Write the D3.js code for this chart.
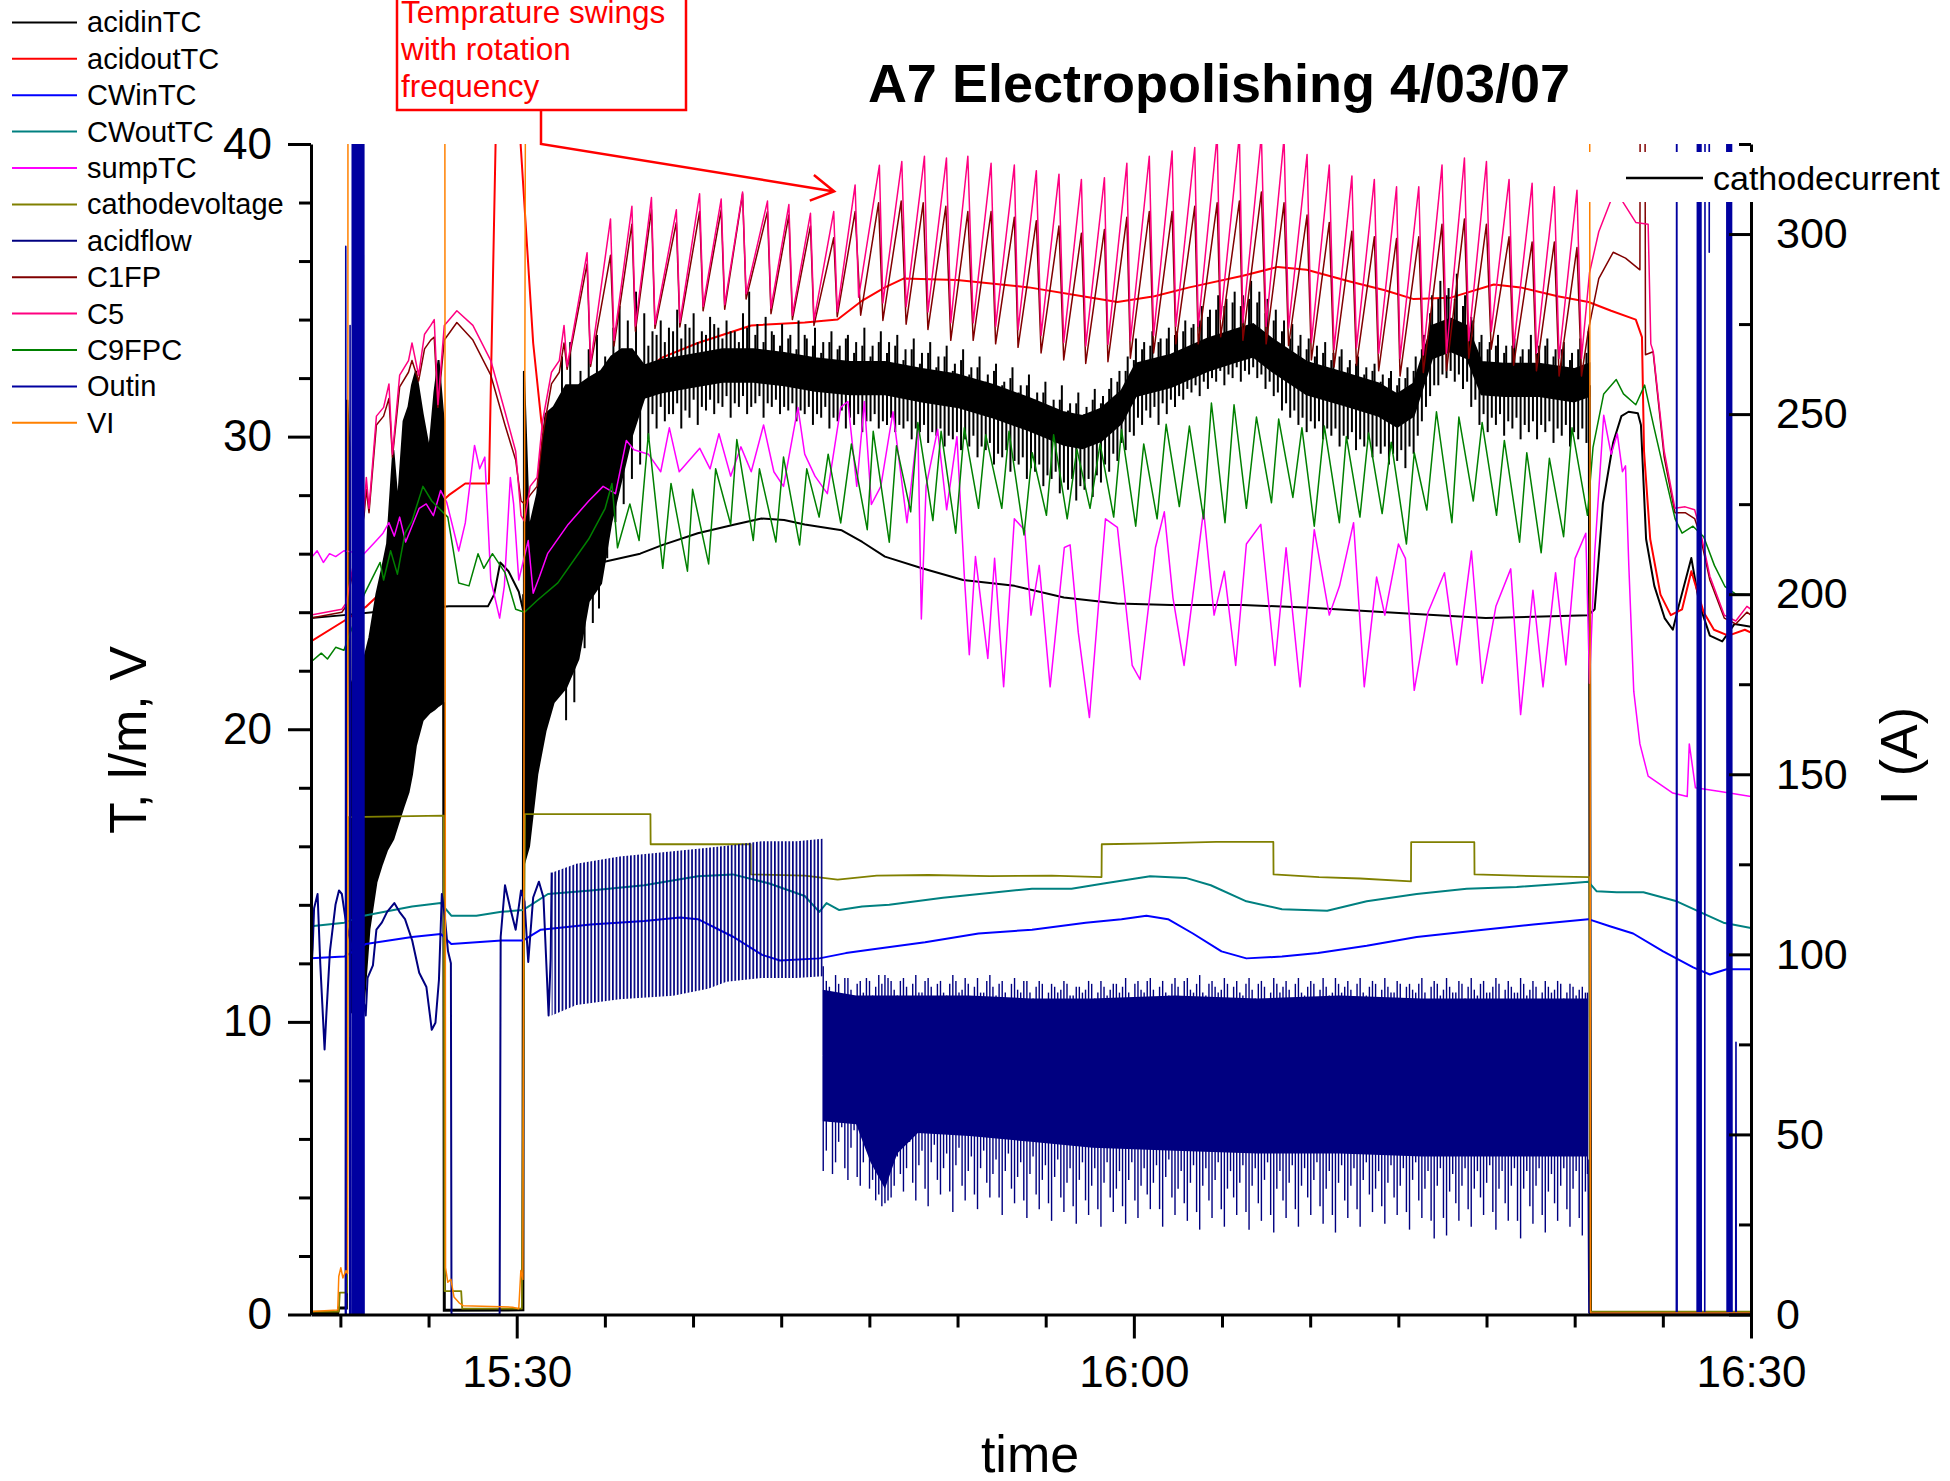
<!DOCTYPE html>
<html>
<head>
<meta charset="utf-8">
<script src="https://d3js.org/d3.v7.min.js"></script>
<style>
  body { margin: 0; background: #fff; }
  svg { display: block; font-family: "Liberation Sans", Arial, sans-serif; }
</style>
</head>
<body>
<svg id="chart" width="1950" height="1481"></svg>
<script>
// ---- data: [minutes after 15:20, value] ----
var legendNames = ["acidinTC", "acidoutTC", "CWinTC", "CWoutTC", "sumpTC", "cathodevoltage",
                   "acidflow", "C1FP", "C5", "C9FPC", "Outin", "VI"];

var majorTimes = [10, 40, 70];
var leftTicks = [0, 10, 20, 30, 40];
var rightTicks = [0, 50, 100, 150, 200, 250, 300];

var acidinTC = [[0,23.8],[1.6,23.9],[3.0,24.0],[5.0,24.1],[6.7,24.2],[8.6,24.2],[8.9,24.6],[9.2,25.7],[9.6,25.4],[10.1,24.7],[10.3,24.1],[10.9,24.2],[12.0,24.6],[13.0,25.2],[14.1,25.7],[16.0,26.0],[17.1,26.3],[18.8,26.7],[20.6,27.0],[21.9,27.2],[23.0,27.15],[24.0,27.0],[25.8,26.8],[26.8,26.4],[27.9,25.9],[29.7,25.5],[31.7,25.1],[34.2,24.9],[36.6,24.5],[39.2,24.3],[41.8,24.25],[45.3,24.25],[48.6,24.15],[53.5,23.95],[57.1,23.8],[62.1,23.9],[62.4,24.1],[62.8,27.7],[63.3,29.8],[63.7,30.7],[64.05,30.85],[64.5,30.8],[64.65,30.4],[64.9,26.5],[65.3,24.9],[65.8,23.8],[66.2,23.4],[66.5,24.25],[67.1,25.85],[67.5,24.25],[68.0,23.2],[68.6,23.0],[69.2,23.6],[70,23.5]];

var acidoutTC = [[0,23.0],[1.6,23.7],[2.7,24.2],[3.9,25.0],[4.7,26.1],[5.6,27.3],[6.7,28.0],[7.5,28.4],[8.65,28.4],[9.0,41],[10.1,41],[10.8,33.2],[11.2,30.5],[11.7,29.0],[12.0,28.7],[13.5,30.3],[15.0,31.6],[17.06,32.7],[18.8,33.2],[21.4,33.8],[24.0,33.9],[25.6,34.0],[26.8,34.65],[27.9,35.1],[28.8,35.4],[31.4,35.35],[34.9,35.1],[37.5,34.8],[39.2,34.6],[41.0,34.8],[42.7,35.1],[45.3,35.5],[47.0,35.8],[48.4,35.7],[50.5,35.3],[52.2,35.0],[53.6,34.7],[55.4,34.75],[57.5,35.2],[58.8,35.1],[60.6,34.8],[62.1,34.6],[63.2,34.3],[64.4,34.0],[64.7,33.4],[64.8,29.5],[65.1,26.5],[65.6,24.6],[66.1,23.9],[66.65,24.1],[67.1,25.4],[67.7,24.0],[68.2,23.4],[68.9,23.2],[69.7,23.4],[70,23.3]];

var CWinTC = [[0,12.17],[1.62,12.23],[2.66,12.66],[4.91,12.9],[6.31,13.0],[6.82,12.66],[9.26,12.78],[10.3,12.78],[11.17,13.15],[13.6,13.33],[16.2,13.45],[17.94,13.57],[18.81,13.51],[20.54,12.9],[21.93,12.29],[22.8,12.1],[24.71,12.17],[26.0,12.35],[27.24,12.47],[29.85,12.72],[32.45,13.02],[35.05,13.15],[37.66,13.39],[39.4,13.51],[40.61,13.63],[41.66,13.51],[42.87,13.02],[44.26,12.41],[45.47,12.17],[47.2,12.23],[48.95,12.35],[51.32,12.6],[53.75,12.9],[56.99,13.15],[59.42,13.33],[62.09,13.51],[63.14,13.27],[64.27,13.02],[65.73,12.41],[67.19,11.86],[68.0,11.62],[68.81,11.8],[70,11.8]];

var CWoutTC = [[0,13.27],[1.62,13.39],[2.57,13.63],[4.91,13.94],[6.31,14.06],[6.82,13.63],[8.04,13.63],[9.26,13.76],[10.3,13.82],[11.52,14.37],[13.6,14.49],[16.2,14.67],[18.81,14.98],[20.5,15.04],[22.28,14.73],[24.0,14.3],[24.71,13.76],[25.06,14.06],[25.68,13.82],[26.79,13.94],[28.11,14.0],[30.72,14.24],[33.32,14.43],[35.05,14.55],[36.97,14.55],[38.53,14.73],[40.79,14.98],[42.52,14.92],[43.74,14.67],[45.47,14.12],[47.2,13.85],[49.4,13.8],[51.32,14.12],[53.75,14.37],[56.18,14.55],[58.61,14.61],[61.04,14.73],[62.09,14.79],[62.5,14.46],[63.47,14.43],[64.77,14.43],[66.39,14.12],[67.69,13.7],[68.66,13.39],[70,13.21]];

var sumpTC = [[0,25.85],[0.3,26.1],[0.6,25.7],[0.9,26.0],[1.2,25.9],[1.6,26.1],[2.58,26.0],[3.18,26.45],[3.5,26.7],[3.79,27.06],[4.05,26.6],[4.31,27.25],[4.6,26.4],[5.26,27.55],[5.6,27.7],[5.95,27.3],[6.3,28.16],[6.6,27.75],[7.18,26.09],[7.5,27.05],[7.95,29.7],[8.2,28.9],[8.45,29.3],[8.74,25.1],[9.17,23.8],[9.4,24.9],[9.69,28.6],[9.85,27.7],[10.1,25.1],[10.56,26.45],[10.8,24.65],[11.1,25.2],[11.5,26.0],[12.5,27.0],[13.5,27.8],[14.2,28.3],[14.8,28.05],[15.33,29.87],[15.7,29.55],[16.4,29.4],[17.0,28.8],[17.42,30.3],[17.9,28.8],[18.4,29.2],[18.9,29.6],[19.4,28.9],[19.83,30.1],[20.4,28.65],[20.9,29.65],[21.4,28.8],[22.0,30.4],[22.5,28.8],[22.97,28.3],[23.67,31.0],[24.0,29.4],[24.5,28.65],[25.1,28.05],[25.75,31.0],[26.1,31.2],[26.53,28.3],[26.9,31.2],[27.24,27.68],[27.7,28.3],[28.29,30.85],[28.97,27.06],[29.5,30.36],[29.67,23.77],[29.9,28.3],[30.46,30.24],[30.9,27.5],[31.4,30.0],[31.76,25.23],[32.0,22.55],[32.3,25.9],[32.9,22.42],[33.23,25.84],[33.67,21.45],[34.19,27.19],[34.7,26.8],[35.0,23.9],[35.4,25.6],[35.93,21.45],[36.62,26.21],[36.9,26.3],[37.3,23.3],[37.84,20.4],[38.62,27.19],[39.2,26.9],[39.92,22.18],[40.3,21.7],[41.05,26.21],[41.48,27.43],[41.9,24.5],[42.44,22.18],[43.39,27.49],[43.9,23.9],[44.4,25.4],[44.95,22.18],[45.47,26.33],[46.17,27.0],[46.86,22.18],[47.4,26.2],[48.08,21.45],[48.77,26.82],[49.5,23.9],[50.0,24.9],[50.68,27.06],[51.2,21.45],[51.8,25.2],[52.2,23.9],[52.86,26.33],[53.2,25.84],[53.63,21.33],[54.3,24.0],[55.1,25.35],[55.7,22.2],[56.41,26.09],[56.93,21.57],[57.6,24.2],[58.32,25.48],[58.8,20.5],[59.4,24.75],[59.89,21.45],[60.5,25.35],[61.0,22.2],[61.45,25.84],[61.97,26.7],[62.15,21.57],[62.4,26.0],[62.84,30.73],[63.2,29.4],[63.5,30.1],[63.75,28.8],[63.9,29.0],[64.06,25.6],[64.3,21.3],[64.6,19.5],[65.0,18.4],[66.2,17.82],[66.9,17.7],[67.0,19.5],[67.3,18.0],[68.5,17.87],[70,17.7]];

var cathodevoltage = [[0,0.1],[1.35,0.1],[1.4,0.75],[1.75,0.75],[1.8,17.0],[6.45,17.05],[6.5,0.8],[7.3,0.8],[7.35,0.2],[10.25,0.2],[10.4,17.1],[16.5,17.1],[16.51,16.07],[21.37,16.07],[21.38,15.04],[24.0,15.0],[25.6,14.86],[27.5,15.0],[30.0,15.02],[33.0,14.98],[36.0,15.0],[38.43,14.95],[38.44,16.07],[41.0,16.1],[44.0,16.15],[46.78,16.15],[46.79,15.04],[49.0,14.95],[51.0,14.9],[53.47,14.8],[53.48,16.14],[56.55,16.14],[56.56,15.04],[60.0,14.97],[62.15,14.95],[62.2,0.1],[70,0.1]];

// acidflow: line before the rotation starts, envelope of the striped part, dense core band and its spikes
var acidflowStart = [[0,11.56],[0.08,12.5],[0.15,13.88],[0.32,14.37],[0.45,12.0],[0.55,10.6],[0.66,9.06],[0.75,10.3],[0.92,12.41],[1.19,14.0],[1.36,14.49],[1.5,14.37],[1.7,13.4],[2.5,11.0],[2.66,10.22],[2.75,11.5],[3.01,11.93],[3.18,13.15],[3.45,13.4],[3.7,13.76],[4.05,14.06],[4.3,13.76],[4.57,13.51],[4.92,12.78],[5.26,11.68],[5.61,11.19],[5.87,9.73],[6.05,9.97],[6.22,11.44],[6.36,14.37],[6.5,13.63],[6.66,12.41],[6.8,12.0],[6.83,0],[9.17,0],[9.22,12.9],[9.43,14.67],[9.68,13.9],[9.95,13.15],[10.21,14.49],[10.38,14.1],[10.56,12.05],[10.8,14.25],[11.08,14.79],[11.3,14.25],[11.55,10.22],[11.65,12.17],[11.7,15.1]];
var acidflowSwing = [[11.7,10.22,15.1],[12.9,10.58,15.4],[15.0,10.77,15.65],[17.6,10.89,15.83],[19.3,11.13,15.95],[20.2,11.37,16.02],[21.9,11.5,16.17],[23.6,11.5,16.17],[24.88,11.56,16.26]];
var acidflowCore = [[24.88,6.6,11.1],[26.5,6.5,10.9],[27.2,5.2,10.9],[27.9,4.3,10.9],[28.5,5.5,10.9],[29.5,6.2,10.9],[32.0,6.1,10.9],[35.0,5.9,10.8],[38.0,5.7,10.8],[42.0,5.6,10.9],[46.0,5.5,10.8],[50.0,5.5,10.9],[54.0,5.4,10.8],[58.0,5.4,10.8],[62.08,5.4,10.8]];
var acidflowHi = [[24.9,11.9],[25.2,11.2],[25.5,11.6],[25.8,10.9],[26.1,11.5],[26.4,10.4],[26.7,11.4],[27.0,11.5],[27.3,10.9],[27.6,11.6],[27.9,11.6],[28.2,11.4],[28.5,10.9],[28.8,11.5],[29.1,10.8],[29.4,11.6],[29.7,11.0],[30.0,11.5],[30.3,10.6],[30.6,11.4],[30.9,10.9],[31.2,11.6],[31.5,11.0],[31.8,11.5],[32.1,10.5],[32.4,11.5],[32.7,11.0],[33.0,11.6],[33.3,10.9],[33.6,11.4],[33.9,10.6],[34.2,11.5],[34.5,11.0],[34.8,11.4],[35.1,10.8],[35.4,11.4],[35.7,10.7],[36.0,11.3],[36.3,11.0],[36.6,11.4],[36.9,10.9],[37.2,11.2],[37.5,11.0],[37.8,11.4],[38.1,10.8],[38.4,11.4],[38.7,10.9],[39.0,11.3],[39.3,11.0],[39.6,11.5],[39.9,10.5],[40.2,11.4],[40.5,11.0],[40.8,11.5],[41.1,10.8],[41.4,11.4],[41.7,10.9],[42.0,11.5],[42.3,10.4],[42.6,11.5],[42.9,11.0],[43.2,11.6],[43.5,10.9],[43.8,11.4],[44.1,11.0],[44.4,11.5],[44.7,10.6],[45.0,11.4],[45.3,10.9],[45.6,11.5],[45.9,10.8],[46.2,11.4],[46.5,10.5],[46.8,11.5],[47.1,11.0],[47.4,11.4],[47.7,10.7],[48.0,11.5],[48.3,10.9],[48.6,11.4],[48.9,10.6],[49.2,11.5],[49.5,10.9],[49.8,11.5],[50.1,11.0],[50.4,11.4],[50.7,10.5],[51.0,11.5],[51.3,10.9],[51.6,11.4],[51.9,10.7],[52.2,11.5],[52.5,11.0],[52.8,11.4],[53.1,10.8],[53.4,11.3],[53.7,11.0],[54.0,11.5],[54.3,10.6],[54.6,11.4],[54.9,10.9],[55.2,11.5],[55.5,11.0],[55.8,11.4],[56.1,10.8],[56.4,11.5],[56.7,10.9],[57.0,11.4],[57.3,11.0],[57.6,11.5],[57.9,10.6],[58.2,11.4],[58.5,11.0],[58.8,11.5],[59.1,10.9],[59.4,11.4],[59.7,10.7],[60.0,11.4],[60.3,11.0],[60.6,11.4],[60.9,10.8],[61.2,11.3],[61.5,10.9],[61.8,11.2],[62.05,11.0],
  [25.05,11.4],[25.35,11.0],[25.65,11.3],[25.95,11.5],[26.25,11.1],[26.55,11.3],[26.85,11.0],[27.15,11.4],[27.45,11.2],[27.75,11.3],[28.05,11.5],[28.35,11.1],[28.65,11.4],[28.95,11.2],[29.25,11.3],[29.55,11.0],[29.85,11.4],[30.15,11.2],[30.45,11.3],[30.75,11.0],[31.05,11.3],[31.35,11.4],[31.65,11.1],[31.95,11.3],[32.25,11.2],[32.55,11.0],[32.85,11.4],[33.15,11.2],[33.45,11.3],[33.75,11.0],[34.05,11.3],[34.35,11.1],[34.65,11.4],[34.95,11.0],[35.25,11.2],[35.55,11.3],[35.85,11.0],[36.15,11.2],[36.45,11.1],[36.75,11.3],[37.05,10.9],[37.35,11.2],[37.65,11.1],[37.95,11.3],[38.25,11.0],[38.55,11.2],[38.85,11.1],[39.15,11.3],[39.45,11.2],[39.75,11.0],[40.05,11.3],[40.35,11.1],[40.65,11.4],[40.95,11.1],[41.25,11.2],[41.55,11.0],[41.85,11.3],[42.15,11.2],[42.45,11.4],[42.75,11.1],[43.05,11.3],[43.35,11.0],[43.65,11.3],[43.95,11.2],[44.25,11.1],[44.55,11.3],[44.85,11.2],[45.15,11.0],[45.45,11.3],[45.75,11.1],[46.05,11.3],[46.35,11.2],[46.65,11.0],[46.95,11.3],[47.25,11.2],[47.55,11.1],[47.85,11.3],[48.15,11.0],[48.45,11.2],[48.75,11.3],[49.05,11.1],[49.35,11.2],[49.65,11.0],[49.95,11.3],[50.25,11.2],[50.55,11.1],[50.85,11.3],[51.15,11.0],[51.45,11.2],[51.75,11.3],[52.05,11.1],[52.35,11.2],[52.65,11.0],[52.95,11.3],[53.25,11.2],[53.55,11.1],[53.85,11.3],[54.15,11.0],[54.45,11.2],[54.75,11.3],[55.05,11.1],[55.35,11.2],[55.65,11.0],[55.95,11.3],[56.25,11.2],[56.55,11.1],[56.85,11.3],[57.15,11.0],[57.45,11.2],[57.75,11.3],[58.05,11.1],[58.35,11.2],[58.65,11.0],[58.95,11.3],[59.25,11.1],[59.55,11.2],[59.85,11.0],[60.15,11.2],[60.45,11.1],[60.75,11.3],[61.05,11.0],[61.35,11.2],[61.65,11.1],[61.95,11.0]];
var acidflowLo = [[24.9,4.9],[25.2,6.6],[25.5,5.2],[25.8,6.4],[26.1,4.6],[26.4,6.3],[26.7,4.4],[27.0,5.8],[27.3,4.6],[27.6,4.1],[27.9,3.8],[28.2,4.0],[28.5,5.4],[28.8,4.2],[29.1,5.9],[29.4,3.9],[29.7,5.6],[30.0,3.7],[30.3,5.8],[30.6,4.1],[30.9,5.5],[31.2,3.5],[31.5,5.7],[31.8,3.9],[32.1,5.4],[32.4,3.6],[32.7,5.6],[33.0,4.0],[33.3,5.3],[33.6,3.4],[33.9,5.5],[34.2,3.8],[34.5,5.2],[34.8,3.3],[35.1,5.4],[35.4,3.6],[35.7,5.1],[36.0,3.2],[36.3,5.3],[36.6,3.5],[36.9,5.0],[37.2,3.1],[37.5,5.2],[37.8,3.4],[38.1,5.0],[38.4,3.0],[38.7,5.2],[39.0,3.5],[39.3,4.9],[39.6,3.1],[39.9,5.2],[40.2,3.3],[40.5,5.0],[40.8,3.6],[41.1,5.1],[41.4,3.0],[41.7,5.3],[42.0,3.4],[42.3,4.9],[42.6,3.2],[42.9,5.1],[43.2,2.9],[43.5,5.0],[43.8,3.3],[44.1,5.2],[44.4,3.0],[44.7,4.9],[45.0,3.4],[45.3,5.1],[45.6,2.9],[45.9,5.0],[46.2,3.2],[46.5,5.2],[46.8,2.8],[47.1,4.9],[47.4,3.3],[47.7,5.1],[48.0,3.0],[48.3,5.0],[48.6,3.4],[48.9,5.2],[49.2,3.1],[49.5,4.9],[49.8,2.8],[50.1,5.1],[50.4,3.3],[50.7,5.0],[51.0,3.0],[51.3,5.2],[51.6,3.5],[51.9,4.9],[52.2,3.1],[52.5,5.1],[52.8,3.4],[53.1,5.0],[53.4,2.9],[53.7,5.2],[54.0,3.3],[54.3,4.9],[54.6,2.6],[54.9,5.0],[55.2,2.7],[55.5,4.8],[55.8,3.2],[56.1,5.0],[56.4,3.0],[56.7,4.9],[57.0,3.4],[57.3,5.1],[57.6,2.9],[57.9,4.9],[58.2,3.2],[58.5,5.0],[58.8,2.6],[59.1,4.9],[59.4,3.1],[59.7,5.0],[60.0,2.8],[60.3,4.8],[60.6,3.2],[60.9,5.0],[61.2,3.0],[61.5,4.9],[61.8,2.7],[62.05,4.8],
  [25.05,5.6],[25.35,4.8],[25.65,5.9],[25.95,5.0],[26.25,5.7],[26.55,4.7],[26.85,5.2],[27.15,4.3],[27.45,3.9],[27.75,3.7],[28.05,3.9],[28.35,4.4],[28.65,4.8],[28.95,5.0],[29.25,4.5],[29.55,5.1],[29.85,4.3],[30.15,5.2],[30.45,4.6],[30.75,5.0],[31.05,4.2],[31.35,5.1],[31.65,4.4],[31.95,4.9],[32.25,4.1],[32.55,5.0],[32.85,4.5],[33.15,4.8],[33.45,4.0],[33.75,4.9],[34.05,4.3],[34.35,4.7],[34.65,3.9],[34.95,4.8],[35.25,4.1],[35.55,4.6],[35.85,3.8],[36.15,4.7],[36.45,4.0],[36.75,4.5],[37.05,3.7],[37.35,4.6],[37.65,3.9],[37.95,4.4],[38.25,3.6],[38.55,4.5],[38.85,4.0],[39.15,4.3],[39.45,3.7],[39.75,4.6],[40.05,3.9],[40.35,4.4],[40.65,4.1],[40.95,4.5],[41.25,3.6],[41.55,4.7],[41.85,4.0],[42.15,4.3],[42.45,3.8],[42.75,4.5],[43.05,3.5],[43.35,4.4],[43.65,3.9],[43.95,4.6],[44.25,3.6],[44.55,4.3],[44.85,4.0],[45.15,4.5],[45.45,3.5],[45.75,4.4],[46.05,3.8],[46.35,4.6],[46.65,3.4],[46.95,4.3],[47.25,3.9],[47.55,4.5],[47.85,3.6],[48.15,4.4],[48.45,4.0],[48.75,4.6],[49.05,3.7],[49.35,4.3],[49.65,3.4],[49.95,4.5],[50.25,3.9],[50.55,4.4],[50.85,3.6],[51.15,4.6],[51.45,4.1],[51.75,4.3],[52.05,3.7],[52.35,4.5],[52.65,4.0],[52.95,4.4],[53.25,3.5],[53.55,4.6],[53.85,3.9],[54.15,4.3],[54.45,3.2],[54.75,4.4],[55.05,3.3],[55.35,4.2],[55.65,3.8],[55.95,4.4],[56.25,3.6],[56.55,4.3],[56.85,4.0],[57.15,4.5],[57.45,3.5],[57.75,4.3],[58.05,3.8],[58.35,4.4],[58.65,3.2],[58.95,4.3],[59.25,3.7],[59.55,4.4],[59.85,3.4],[60.15,4.2],[60.45,3.8],[60.75,4.4],[61.05,3.6],[61.35,4.3],[61.65,3.3],[61.95,4.2]];
var acidflowEnd = [[62.08,5.3],[62.12,0.05],[70,0.05]];

var C1FP = [[0,23.8],[1.5,24.0],[1.7,24.2],[2.58,27.3],[2.69,28.2],[2.82,27.4],[3.18,30.4],[3.53,30.7],[3.79,31.3],[3.96,29.3],[4.31,31.7],[4.74,32.2],[4.91,32.6],[5.23,31.9],[5.52,33.0],[5.82,33.3],[5.99,33.4],[6.17,31.0],[6.48,33.3],[7.09,33.9],[7.87,33.3],[8.74,32.1],[9.43,30.4],[9.95,29.2],[10.21,27.8],[10.38,27.7],[10.65,28.0],[10.99,28.3],[11.25,30.0],[11.69,31.8],[12.07,32.2],[12.3,33.2],[12.45,32.3],
  [13.42,35.9],[13.59,32.4],[14.56,36.2],[14.73,33.1],[15.6,37.26],[15.77,33.6],[16.55,37.75],[16.72,33.7],[17.76,37.32],[17.93,33.75],[18.89,37.69],[19.06,34.3],[19.94,37.75],[20.11,34.35],[20.98,38.3],[21.15,34.7],[22.19,37.69],[22.36,34.2],[23.23,37.57],[23.4,34.0],[24.28,37.2],[24.45,33.8],[25.41,36.8],[25.58,34.1],[26.45,37.69],[26.72,34.15],
  [27.59,37.99],[27.8,33.97],[28.69,38.05],[28.93,33.84],[29.76,37.99],[29.99,33.66],[30.86,37.87],[31.1,33.29],[31.93,37.69],[32.19,33.29],[33.06,37.69],[33.28,33.17],[34.19,37.5],[34.37,33.05],[35.26,37.38],[35.49,32.86],[36.36,37.2],[36.59,32.62],[37.45,36.95],[37.66,32.5],[38.57,37.08],[38.74,32.56],[39.66,37.5],[39.83,32.68],[40.75,37.69],[40.96,32.86],[41.86,37.69],[42.04,33.17],[42.96,37.87],[43.13,33.17],[44.05,37.99],[44.22,33.41],[45.13,38.05],[45.3,33.29],[46.2,38.36],[46.43,33.17],[47.3,37.99],[47.52,33.11],[48.42,37.57],[48.63,32.62],[49.5,37.32],[49.73,32.38],[50.6,37.02],[50.82,32.44],[51.69,36.83],[51.9,32.25],[52.77,36.77],[52.94,32.07],[53.85,36.83],[54.07,32.19],[54.98,37.26],[55.2,32.25],[56.07,37.44],[56.28,32.68],[57.14,37.26],[57.37,32.99],[58.24,36.83],[58.46,32.44],[59.36,36.65],[59.57,32.25],[60.44,36.65],[60.67,32.07],[61.54,36.46],[61.76,32.07],
  [62.1,33.66],[62.6,35.4],[63.3,36.3],[63.9,36.1],[64.6,35.7],[64.62,45],[64.84,45],[64.87,32.8],[65.24,32.9],[65.78,29.3],[66.3,27.4],[66.8,27.4],[67.26,27.2],[67.5,26.7],[68.0,25.1],[68.7,23.8],[69.26,23.6],[69.8,24.0],[70,23.9]];

var C5 = [[0,23.9],[1.5,24.1],[1.7,24.3],[2.58,27.55],[2.69,28.6],[2.82,27.55],[3.18,30.7],[3.53,31.0],[3.79,31.8],[3.96,29.4],[4.31,32.1],[4.74,32.6],[4.91,33.2],[5.23,32.1],[5.52,33.5],[5.82,33.8],[5.99,34.0],[6.17,31.1],[6.48,33.8],[7.09,34.3],[7.87,33.8],[8.74,32.6],[9.43,30.85],[9.95,29.5],[10.21,27.3],[10.38,27.1],[10.65,28.3],[10.99,28.6],[11.25,30.5],[11.69,32.2],[12.07,32.6],[12.3,33.8],[12.45,32.4],
  [13.42,36.28],[13.59,32.5],[14.56,37.44],[14.73,33.29],[15.6,37.87],[15.77,33.78],[16.55,38.17],[16.72,33.84],[17.76,37.75],[17.93,33.9],[18.89,38.3],[19.06,34.45],[19.94,38.12],[20.11,34.51],[20.98,38.36],[21.15,34.88],[22.19,38.05],[22.36,34.39],[23.23,37.93],[23.4,34.15],[24.28,37.63],[24.45,33.97],[25.41,37.69],[25.58,34.27],[26.45,38.6],[26.62,34.76],
  [27.63,39.27],[27.8,34.57],[28.72,39.4],[28.93,34.44],[29.82,39.58],[29.99,34.26],[30.89,39.52],[31.1,33.89],[31.93,39.58],[32.19,33.89],[33.06,39.34],[33.28,33.77],[34.19,39.28],[34.37,33.65],[35.26,39.09],[35.49,33.46],[36.36,38.97],[36.59,33.22],[37.45,38.79],[37.66,33.1],[38.57,38.85],[38.74,33.16],[39.66,39.34],[39.83,33.28],[40.75,39.58],[40.96,33.46],[41.86,39.76],[42.04,33.77],[42.96,39.88],[43.13,33.77],[44.05,40.3],[44.22,34.01],[45.13,40.3],[45.3,33.89],[46.2,40.3],[46.43,33.77],[47.3,40.2],[47.52,33.71],[48.42,39.64],[48.63,33.22],[49.5,39.28],[49.73,32.98],[50.6,38.91],[50.82,33.04],[51.69,38.79],[51.9,32.85],[52.77,38.54],[52.94,32.67],[53.85,38.54],[54.07,32.79],[54.98,39.28],[55.2,32.85],[56.07,39.52],[56.28,33.28],[57.14,39.4],[57.37,33.59],[58.24,38.79],[58.46,33.04],[59.36,38.66],[59.57,32.85],[60.44,38.54],[60.67,32.67],[61.54,38.42],[61.76,32.67],
  [62.15,35.6],[62.6,37.0],[63.18,38.05],[63.7,38.1],[64.4,37.32],[65.0,37.26],[65.13,33.17],[65.25,32.9],[65.78,29.5],[66.3,27.55],[66.8,27.6],[67.26,27.5],[67.5,26.9],[68.0,25.23],[68.7,23.9],[69.26,23.7],[69.8,24.2],[70,24.1]];

var C9FPC = [[0,22.3],[0.5,22.6],[0.8,22.4],[1.2,22.8],[1.6,22.7],[2.58,24.6],[3.36,25.7],[3.53,25.1],[3.87,26.1],[4.2,25.3],[4.57,26.7],[4.9,27.1],[5.44,28.3],[5.87,27.8],[6.65,27.25],[7.18,25.0],[7.68,24.9],[8.12,26.0],[8.4,25.5],[8.82,26.0],[9.43,25.35],[9.95,24.1],[10.38,24.0],[10.99,24.4],[12.0,25.0],[13.5,26.5],[14.3,27.55],[14.63,28.4],[14.9,26.2],[15.5,27.7],[15.95,26.45],[16.4,30.1],[17.1,25.5],[17.5,28.4],[18.3,25.4],[18.55,28.2],[19.33,25.65],[19.67,28.9],[20.4,27.0],[20.7,29.9],[21.5,26.45],[21.8,28.9],[22.6,26.4],[22.97,29.3],[23.75,26.3],[24.1,28.9],[24.7,27.25],[25.14,29.4],[25.75,27.05],[26.27,29.75],[27.04,26.82],[27.33,30.18],[28.11,26.39],[28.46,29.69],[29.15,27.43],[29.5,30.48],[30.23,27.13],[30.63,30.18],[31.34,26.7],[31.76,30.3],[32.45,27.55],[32.8,30.06],[33.58,27.55],[33.93,30.18],[34.66,26.64],[35.06,29.45],[35.75,27.31],[36.1,30.06],[36.76,27.19],[37.23,29.57],[37.87,27.55],[38.36,29.75],[39.02,27.25],[39.4,30.24],[40.09,26.94],[40.48,29.75],[41.13,27.19],[41.57,30.42],[42.21,27.61],[42.7,30.36],[43.39,27.19],[43.77,31.15],[44.43,27.06],[44.87,31.09],[45.47,27.55],[45.96,30.67],[46.69,27.74],[47.04,30.6],[47.73,27.92],[48.17,30.3],[48.77,26.94],[49.26,30.36],[49.99,27.06],[50.33,30.0],[50.99,27.25],[51.41,30.12],[52.07,27.37],[52.51,29.81],[53.25,26.33],[53.63,29.45],[54.24,27.49],[54.71,30.85],[55.46,27.06],[55.8,30.67],[56.5,27.8],[56.93,30.48],[57.63,27.31],[58.01,29.87],[58.75,26.39],[59.1,29.45],[59.8,26.03],[60.2,29.26],[60.89,26.58],[61.3,30.3],[62.05,27.31],[62.32,29.63],[62.84,31.46],[63.45,31.95],[63.8,31.46],[64.4,31.09],[64.83,31.76],[65.27,30.36],[65.79,28.77],[66.31,27.19],[66.65,26.7],[67.18,26.94],[67.7,26.58],[68.22,25.6],[68.74,24.87],[69.26,24.62],[70,24.6]];

var Outin = [[0,-5],[1.67,-5],[1.69,36.5],[1.71,-5],[1.88,-5],[1.9,33.8],[1.92,-5],[2.0,-5],[2.01,60],[2.05,-5],[2.09,60],[2.13,-5],[2.17,60],[2.21,-5],[2.25,60],[2.29,-5],[2.33,60],[2.37,-5],[2.41,60],[2.45,-5],[2.49,60],[2.53,-5],[2.56,60],[2.58,-5],[66.37,-5],[66.39,60],[66.41,-5],[67.38,-5],[67.4,60],[67.44,-5],[67.48,60],[67.52,-5],[67.56,60],[67.58,-5],[67.75,-5],[67.77,60],[67.95,60],[67.97,36.3],[67.99,60],[68.82,60],[68.84,-5],[68.88,60],[68.92,-5],[68.96,60],[69.0,-5],[69.04,60],[69.08,-5],[69.25,-5],[69.27,9.3],[69.29,-5],[70,-5]];

var VI = [[0,0.1],[1.3,0.15],[1.35,1.3],[1.45,1.6],[1.55,1.25],[1.7,1.5],[1.78,1.4],[1.8,50],[6.5,50],[6.54,1.6],[6.65,1.1],[6.8,1.2],[6.95,0.6],[7.2,0.4],[7.4,0.3],[9.8,0.25],[10.1,0.2],[10.2,1.5],[10.3,1.2],[10.45,50],[62.15,50],[62.2,0.05],[70,0.05]];

// cathodecurrent (right axis, A): flat parts, dense band [t, low, high], spikes
var currentOff = [
  [[0,0.5],[1.3,0.5],[1.35,1.8],[1.72,1.8],[1.74,254],[1.85,240],[1.96,84]],
  [[6.45,170],[6.48,1.2],[10.3,1.3],[10.34,200]],
  [[62.14,258],[62.2,0.4],[70,0.4]]
];
var currentBandA = [[1.96,84,175],[2.3,86,180],[2.58,87,182],[2.84,107,188],[3.18,120,200],[3.45,125,207],[3.7,129,214],[4.0,132,240],[4.22,136,225],[4.5,141,248],[4.74,145,252],[4.91,150,258],[5.1,158,262],[5.43,165,250],[5.75,167,240],[6.0,168,256],[6.2,169,265],[6.45,170,248]];
var currentBandB = [[10.35,125,262],[10.6,130,218],[11.0,150,228],[11.4,162,250],[11.8,170,252],[12.4,174,258],[13.0,182,258],[13.5,198,260],[14.1,203,262],[14.6,220,266],[15.1,232,268],[15.6,244,268],[16.2,254.5,263.5],[17.0,256,265],[18.5,257.5,266.5],[20.0,259,268],[21.5,259,268],[23.0,258,267],[24.5,256.5,265.5],[26.2,255.5,264.5],[27.9,255.5,264.5],[29.7,253.5,262.5],[31.4,252,261],[33.2,249,258],[34.9,245.5,254.5],[36.6,241.5,250.5],[37.5,240.5,249.5],[38.4,242.5,251.5],[39.4,247.5,256.5],[40.1,255,264],[41.8,257.5,266.5],[43.6,262,271],[44.95,264.5,273.5],[45.8,266,275],[46.7,262,271],[48.4,255.5,264.5],[50.2,252.5,261.5],[51.9,249.5,258.5],[52.8,246.5,255.5],[53.6,249.5,258.5],[54.5,265.5,274.5],[55.4,267.5,276.5],[56.2,265.5,274.5],[56.9,255.5,264.5],[58.0,255,264],[59.7,255,264],[61.4,253.5,262.5],[62.14,255,264]];
var currentUp = [[12.2,266],[12.6,270],[13.1,262],[13.5,268],[13.9,272],[14.3,266],[14.7,274],[15.0,280],[15.4,276],[15.8,284],[16.2,278],[16.6,273],[17.0,276],[17.4,274],[17.8,279],[18.2,275],[18.6,278],[19.0,273],[19.4,277],[19.8,274],[20.2,276],[20.6,273],[21.0,278],[21.3,284],[21.7,275],[22.1,277],[22.5,272],[22.9,275],[23.3,272],[23.7,276],[24.1,271],[24.5,274],[24.9,270],[25.3,273],[25.7,269],[26.1,272],[26.5,270],[26.9,274],[27.3,269],[27.7,273],[28.1,270],[28.5,272],[28.9,268],[29.3,271],[29.7,267],[30.1,270],[30.5,266],[30.9,269],[31.3,264],[31.7,268],[32.1,263],[32.5,266],[32.9,261],[33.3,264],[33.7,259],[34.1,263],[34.5,258],[34.9,261],[35.3,256],[35.7,259],[36.1,254],[36.5,258],[36.9,253],[37.3,256],[37.7,252],[38.1,257],[38.5,255],[38.9,260],[39.3,262],[39.7,266],[40.1,271],[40.5,270],[40.9,273],[41.3,271],[41.7,274],[42.1,273],[42.5,276],[42.9,275],[43.3,280],[43.7,279],[44.1,283],[44.5,282],[44.9,284],[45.3,283],[45.7,287],[46.1,284],[46.5,282],[46.9,279],[47.3,276],[47.7,275],[48.1,272],[48.5,271],[48.9,269],[49.3,270],[49.7,267],[50.1,268],[50.5,265],[50.9,266],[51.3,263],[51.7,264],[52.1,261],[52.5,262],[52.9,260],[53.3,263],[53.7,266],[54.1,272],[54.5,283],[54.9,287],[55.3,285],[55.7,289],[56.1,283],[56.5,276],[56.9,272],[57.3,270],[57.7,272],[58.1,269],[58.5,271],[58.9,268],[59.3,272],[59.7,269],[60.1,271],[60.5,268],[60.9,270],[61.3,267],[61.7,271],[62.1,273],
  [16.4,269],[16.8,272],[17.2,270],[17.6,273],[18.0,271],[18.4,274],[18.8,270],[19.2,272],[19.6,275],[20.0,271],[20.4,273],[20.8,270],[21.2,274],[21.6,272],[22.0,270],[22.4,273],[22.8,269],[23.2,271],[23.6,268],[24.0,272],[24.4,269],[24.8,267],[25.2,270],[25.6,268],[26.0,271],[26.4,267],[26.8,269],[27.2,266],[27.6,270],[28.0,267],[28.4,269],[28.8,265],[29.2,268],[29.6,264],[30.0,267],[30.4,263],[30.8,266],[31.2,262],[31.6,265],[32.0,261],[32.4,263],[32.8,259],[33.2,262],[33.6,258],[34.0,260],[34.4,256],[34.8,258],[35.2,254],[35.6,256],[36.0,252],[36.4,254],[36.8,251],[37.2,253],[37.6,250],[38.0,254],[38.4,253],[38.8,257],[39.2,259],[39.6,262],[40.0,265],[40.4,268],[40.8,269],[41.2,270],[41.6,271],[42.0,272],[42.4,273],[42.8,274],[43.2,276],[43.6,277],[44.0,279],[44.4,280],[44.8,281],[45.2,280],[45.6,282],[46.0,281],[46.4,278],[46.8,276],[47.2,273],[47.6,271],[48.0,269],[48.4,268],[48.8,266],[49.2,267],[49.6,265],[50.0,266],[50.4,263],[50.8,264],[51.2,261],[51.6,262],[52.0,259],[52.4,260],[52.8,258],[53.2,260],[53.6,262],[54.0,268],[54.4,278],[54.8,282],[55.2,283],[55.6,282],[56.0,280],[56.4,277],[56.8,270],[57.2,268],[57.6,269],[58.0,267],[58.4,269],[58.8,266],[59.2,268],[59.6,267],[60.0,269],[60.4,266],[60.8,268],[61.2,265],[61.6,268],[62.0,267]];
var currentDown = [[12.4,165],[12.8,170],[13.3,185],[13.7,192],[14.0,196],[14.4,210],[14.8,220],[15.2,225],[15.6,232],[16.0,236],[16.4,243],[16.8,246],[17.2,248],[17.6,250],[18.0,246],[18.4,249],[18.8,247],[19.2,251],[19.6,250],[20.0,252],[20.4,249],[20.8,252],[21.2,250],[21.6,253],[22.0,249],[22.4,252],[22.8,250],[23.2,251],[23.6,248],[24.0,250],[24.4,247],[24.8,249],[25.2,246],[25.6,248],[26.0,246],[26.4,247],[26.8,245],[27.2,248],[27.6,246],[28.0,247],[28.4,245],[28.8,246],[29.2,243],[29.6,245],[30.0,242],[30.4,244],[30.8,241],[31.2,243],[31.6,240],[32.0,241],[32.4,238],[32.8,240],[33.2,236],[33.6,238],[34.0,234],[34.4,236],[34.8,232],[35.2,234],[35.6,230],[36.0,232],[36.4,228],[36.8,229],[37.2,226],[37.6,229],[38.0,227],[38.4,231],[38.8,234],[39.2,237],[39.6,240],[40.0,244],[40.4,247],[40.8,249],[41.2,247],[41.6,250],[42.0,252],[42.4,254],[42.8,256],[43.2,255],[43.6,257],[44.0,259],[44.4,258],[44.8,260],[45.2,259],[45.6,261],[46.0,260],[46.4,257],[46.8,255],[47.2,251],[47.6,249],[48.0,247],[48.4,245],[48.8,246],[49.2,243],[49.6,244],[50.0,241],[50.4,243],[50.8,240],[51.2,241],[51.6,238],[52.0,239],[52.4,236],[52.8,237],[53.2,235],[53.6,239],[54.0,248],[54.4,255],[54.8,258],[55.2,260],[55.6,259],[56.0,257],[56.4,252],[56.8,247],[57.2,245],[57.6,247],[58.0,244],[58.4,246],[58.8,243],[59.2,245],[59.6,243],[60.0,245],[60.4,242],[60.8,244],[61.2,241],[61.6,243],[62.0,242],
  [16.6,250],[17.0,252],[17.4,250],[17.8,253],[18.2,251],[18.6,254],[19.0,252],[19.4,254],[19.8,253],[20.2,255],[20.6,253],[21.0,255],[21.4,252],[21.8,255],[22.2,253],[22.6,254],[23.0,252],[23.4,253],[23.8,251],[24.2,252],[24.6,250],[25.0,252],[25.4,249],[25.8,251],[26.2,249],[26.6,250],[27.0,248],[27.4,250],[27.8,248],[28.2,249],[28.6,247],[29.0,248],[29.4,246],[29.8,247],[30.2,245],[30.6,246],[31.0,244],[31.4,245],[31.8,243],[32.2,244],[32.6,241],[33.0,242],[33.4,239],[33.8,240],[34.2,237],[34.6,238],[35.0,235],[35.4,236],[35.8,233],[36.2,234],[36.6,231],[37.0,232],[37.4,230],[37.8,232],[38.2,233],[38.6,236],[39.0,239],[39.4,242],[39.8,245],[40.2,249],[40.6,251],[41.0,252],[41.4,253],[41.8,254],[42.2,255],[42.6,257],[43.0,258],[43.4,259],[43.8,260],[44.2,262],[44.6,261],[45.0,263],[45.4,262],[45.8,263],[46.2,261],[46.6,259],[47.0,256],[47.4,253],[47.8,251],[48.2,249],[48.6,248],[49.0,248],[49.4,246],[49.8,246],[50.2,244],[50.6,245],[51.0,243],[51.4,243],[51.8,241],[52.2,241],[52.6,239],[53.0,240],[53.4,241],[53.8,244],[54.2,252],[54.6,258],[55.0,261],[55.4,262],[55.8,261],[56.2,259],[56.6,254],[57.0,250],[57.4,249],[57.8,250],[58.2,248],[58.6,249],[59.0,247],[59.4,248],[59.8,247],[60.2,248],[60.6,246],[61.0,247],[61.4,245],[61.8,246]];

// ---- styles ----
var colors = {
  acidinTC: "#000000", acidoutTC: "#ff0000", CWinTC: "#0000ff", CWoutTC: "#008080",
  sumpTC: "#ff00ff", cathodevoltage: "#808000", acidflow: "#000080", C1FP: "#800000",
  C5: "#ff0080", C9FPC: "#008000", Outin: "#0000a0", VI: "#ff8000"
};

var base = new Date(2007, 3, 3, 15, 20);
function t(m) { return new Date(base.getTime() + m * 60000); }

// plot frame in pixels
var frame = { left: 311, right: 1751, top: 144, bottom: 1314.5 };
var x = d3.scaleTime().domain([t(0), t(70)]).range([frame.left, frame.right]);
var y = d3.scaleLinear().domain([0, 40]).range([frame.bottom, frame.top]);
var yR = d3.scaleLinear().domain([0, 325]).range([frame.bottom, frame.top]);

var svg = d3.select("#chart");
var defs = svg.append("defs");
defs.append("clipPath").attr("id", "plotClip")
  .append("rect").attr("x", frame.left).attr("y", frame.top)
  .attr("width", frame.right - frame.left).attr("height", frame.bottom - frame.top);
var pat = defs.append("pattern").attr("id", "swing").attr("patternUnits", "userSpaceOnUse")
  .attr("width", 3.6).attr("height", 20);
pat.append("rect").attr("width", 1.7).attr("height", 20).attr("fill", colors.acidflow);

var plot = svg.append("g").attr("clip-path", "url(#plotClip)");

var line = d3.line().x(function (d) { return x(t(d[0])); }).y(function (d) { return y(d[1]); });
var lineR = d3.line().x(function (d) { return x(t(d[0])); }).y(function (d) { return yR(d[1]); });
var band = d3.area().x(function (d) { return x(t(d[0])); })
  .y0(function (d) { return y(d[1]); }).y1(function (d) { return y(d[2]); });
var bandR = d3.area().x(function (d) { return x(t(d[0])); })
  .y0(function (d) { return yR(d[1]); }).y1(function (d) { return yR(d[2]); });

function drawLine(data, color, w) {
  plot.append("path").datum(data).attr("d", line)
    .attr("fill", "none").attr("stroke", color).attr("stroke-width", w || 1.5)
    .attr("stroke-linejoin", "round");
}

// spikes start from the middle of their band
function spikes(tips, core, scale, color, w) {
  var mid = d3.scaleLinear().domain(core.map(function (d) { return d[0]; }))
    .range(core.map(function (d) { return (d[1] + d[2]) / 2; })).clamp(true);
  plot.append("g").selectAll("line").data(tips).join("line")
    .attr("x1", function (d) { return x(t(d[0])); }).attr("x2", function (d) { return x(t(d[0])); })
    .attr("y1", function (d) { return scale(d[1]); }).attr("y2", function (d) { return scale(mid(d[0])); })
    .attr("stroke", color).attr("stroke-width", w);
}

drawLine(acidinTC, colors.acidinTC, 2);
drawLine(acidoutTC, colors.acidoutTC, 2);

// cathodecurrent covers the two acid traces but sits under the others
[currentBandA, currentBandB].forEach(function (b) {
  plot.append("path").datum(b).attr("d", bandR)
    .attr("fill", "#000").attr("stroke", "#000").attr("stroke-width", 2);
});
spikes(currentUp, currentBandB, yR, "#000", 2);
spikes(currentDown, currentBandB, yR, "#000", 2);
currentOff.forEach(function (seg) {
  plot.append("path").datum(seg).attr("d", lineR)
    .attr("fill", "none").attr("stroke", "#000").attr("stroke-width", 3);
});

drawLine(CWinTC, colors.CWinTC, 2);
drawLine(CWoutTC, colors.CWoutTC, 2);
drawLine(sumpTC, colors.sumpTC, 1.5);
drawLine(cathodevoltage, colors.cathodevoltage, 1.8);

drawLine(acidflowStart, colors.acidflow, 2);
plot.append("path").datum(acidflowSwing).attr("d", band).attr("fill", "url(#swing)");
plot.append("path").datum(acidflowCore).attr("d", band).attr("fill", colors.acidflow);
spikes(acidflowHi, acidflowCore, y, colors.acidflow, 1.4);
spikes(acidflowLo, acidflowCore, y, colors.acidflow, 1.4);
drawLine(acidflowEnd, colors.acidflow, 1.5);

drawLine(C1FP, colors.C1FP, 1.5);
drawLine(C5, colors.C5, 1.5);
drawLine(C9FPC, colors.C9FPC, 1.5);
drawLine(Outin, colors.Outin, 1.6);
drawLine(VI, colors.VI, 1.5);

// ---- axes ----
var font = "'Liberation Sans', Arial, sans-serif";
function styleAxis(g, size) {
  g.attr("font-family", font).attr("font-size", size);
  g.selectAll("line").attr("stroke", "#000").attr("stroke-width", 3);
  g.selectAll("path").attr("stroke", "#000").attr("stroke-width", 3);
  g.selectAll("text").attr("fill", "#000");
}

var minorTimes = d3.range(-2, 14).map(function (k) { return 10 + k * 30 / 7; })
  .filter(function (m) { return m > 0 && majorTimes.indexOf(Math.round(m)) < 0; });

var gx = svg.append("g").attr("transform", "translate(0," + frame.bottom + ")")
  .call(d3.axisBottom(x).tickValues(majorTimes.map(t)).tickFormat(d3.timeFormat("%H:%M"))
    .tickSize(24).tickSizeOuter(0).tickPadding(17));
styleAxis(gx, 44);
var gxm = svg.append("g").attr("transform", "translate(0," + frame.bottom + ")")
  .call(d3.axisBottom(x).tickValues(minorTimes.map(t)).tickFormat("").tickSize(13).tickSizeOuter(0));
styleAxis(gxm, 10);
gxm.select(".domain").remove();

var gy = svg.append("g").attr("transform", "translate(" + frame.left + ",0)")
  .call(d3.axisLeft(y).tickValues(leftTicks).tickSize(23).tickSizeOuter(0).tickPadding(16));
styleAxis(gy, 44);
var gym = svg.append("g").attr("transform", "translate(" + frame.left + ",0)")
  .call(d3.axisLeft(y).tickValues(d3.range(0, 41, 2).filter(function (v) { return v % 10; }))
    .tickFormat("").tickSize(12).tickSizeOuter(0));
styleAxis(gym, 10);
gym.select(".domain").remove();

var gr = svg.append("g").attr("transform", "translate(" + frame.right + ",0)")
  .call(d3.axisRight(yR).tickValues(rightTicks).tickSize(-22).tickSizeOuter(0).tickPadding(25));
styleAxis(gr, 43);
var grm = svg.append("g").attr("transform", "translate(" + frame.right + ",0)")
  .call(d3.axisRight(yR).tickValues(d3.range(25, 326, 50)).tickFormat("").tickSize(-12).tickSizeOuter(0));
styleAxis(grm, 10);
grm.select(".domain").remove();

// axis titles and chart title
svg.append("text").attr("x", 1030).attr("y", 1472).attr("text-anchor", "middle")
  .attr("font-size", 52).text("time");
svg.append("text").attr("transform", "translate(146,740) rotate(-90)").attr("text-anchor", "middle")
  .attr("font-size", 52).text("T, l/m, V");
svg.append("text").attr("transform", "translate(1917,756) rotate(-90)").attr("text-anchor", "middle")
  .attr("font-size", 52).text("I (A)");
svg.append("text").attr("x", 1219).attr("y", 102).attr("text-anchor", "middle")
  .attr("font-size", 54).attr("font-weight", "bold").text("A7 Electropolishing 4/03/07");

// ---- legends ----
var leg = svg.append("g");
var items = leg.selectAll("g").data(legendNames).join("g")
  .attr("transform", function (d, i) { return "translate(0," + (22.4 + i * 36.4) + ")"; });
items.append("line").attr("x1", 12).attr("x2", 77)
  .attr("stroke", function (d) { return colors[d]; }).attr("stroke-width", 2);
items.append("text").attr("x", 87).attr("y", 10).attr("font-size", 29).text(function (d) { return d; });

var legR = svg.append("g");
legR.append("rect").attr("x", 1588).attr("y", 152).attr("width", 362).attr("height", 50).attr("fill", "#fff");
legR.append("line").attr("x1", 1626).attr("x2", 1703).attr("y1", 178).attr("y2", 178)
  .attr("stroke", "#000").attr("stroke-width", 2.5);
legR.append("text").attr("x", 1713).attr("y", 190).attr("font-size", 34).text("cathodecurrent");

// ---- annotation ----
var note = svg.append("g");
note.append("rect").attr("x", 397).attr("y", -10).attr("width", 289).attr("height", 120)
  .attr("fill", "#fff").attr("stroke", "#ff0000").attr("stroke-width", 2.5);
["Temprature swings", "with rotation", "frequency"].forEach(function (s, i) {
  note.append("text").attr("x", 401).attr("y", 23 + i * 37).attr("font-size", 31.5)
    .attr("fill", "#ff0000").text(s);
});
var tipX = x(t(25.43)), tipY = y(38.38);
var sx = 541, sy = 144;
var ang = Math.atan2(tipY - sy, tipX - sx);
note.append("path")
  .attr("d", "M" + sx + ",110V" + sy + "L" + tipX + "," + tipY +
    "M" + (tipX - 26 * Math.cos(ang + 0.52)) + "," + (tipY - 26 * Math.sin(ang + 0.52)) +
    "L" + tipX + "," + tipY +
    "L" + (tipX - 26 * Math.cos(ang - 0.52)) + "," + (tipY - 26 * Math.sin(ang - 0.52)))
  .attr("fill", "none").attr("stroke", "#ff0000").attr("stroke-width", 2.5);
</script>
</body>
</html>
